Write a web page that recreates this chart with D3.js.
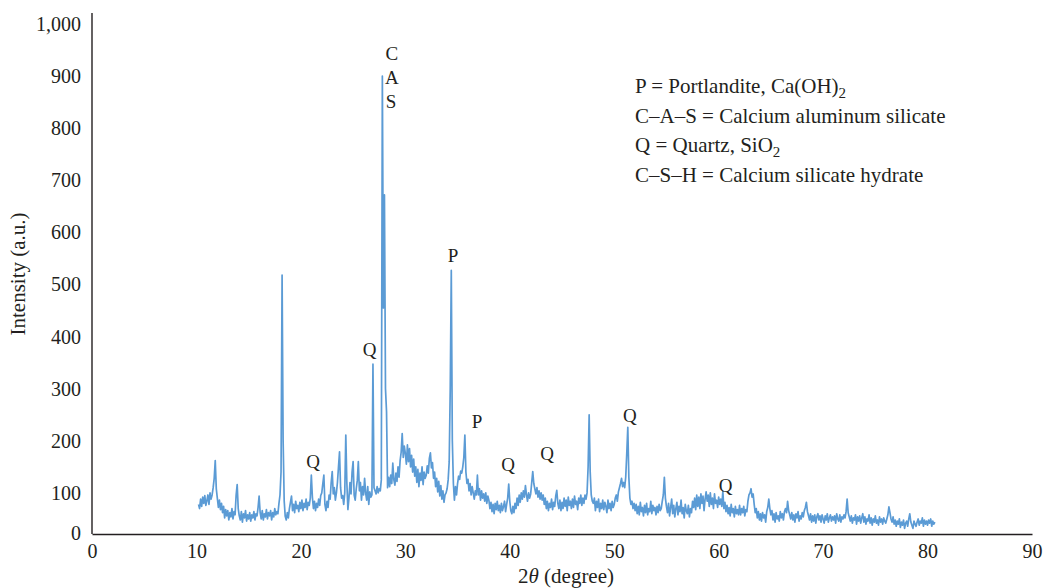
<!DOCTYPE html>
<html><head><meta charset="utf-8">
<script src="https://cdn.jsdelivr.net/npm/d3@7"></script>
<style>
html,body{margin:0;padding:0;background:#fff;}
svg text{font-family:"Liberation Serif","Times New Roman",serif;fill:#231f20;}
</style></head>
<body><svg id="chart" width="1045" height="588"></svg>
<script>
// ---- data: intensity per 0.1 degree step, one row per whole degree (row 10 starts at 10.2) ----
const rowDegrees = d3.range(10, 81);
const rowFirstOffset = [0.2]; // first row begins at 10.2, others at .0
const intensityRows = [
  [78, 70, 88, 74, 92, 80, 95, 76],
  [85, 96, 78, 100, 88, 96, 110, 128, 162, 108],
  [90, 72, 86, 68, 80, 62, 74, 52, 68, 56],
  [66, 48, 62, 54, 70, 50, 64, 58, 96, 116],
  [70, 56, 48, 64, 44, 60, 52, 66, 46, 58],
  [50, 62, 46, 58, 52, 64, 48, 60, 56, 72],
  [94, 62, 50, 66, 48, 60, 54, 68, 50, 62],
  [56, 66, 48, 62, 54, 70, 58, 64, 60, 80],
  [96, 140, 518, 200, 85, 55, 48, 62, 52, 70],
  [82, 94, 66, 78, 62, 84, 70, 76, 64, 82],
  [70, 86, 66, 80, 72, 88, 68, 82, 76, 90],
  [134, 92, 70, 84, 66, 80, 72, 88, 76, 95],
  [100, 118, 134, 78, 66, 84, 72, 96, 88, 120],
  [141, 98, 110, 86, 100, 120, 150, 179, 110, 90],
  [95, 78, 100, 211, 120, 68, 90, 120, 98, 140],
  [160, 96, 86, 108, 124, 160, 104, 120, 86, 112],
  [96, 128, 100, 86, 112, 78, 102, 92, 96, 347],
  [110, 104, 98, 112, 100, 108, 104, 125, 900, 455],
  [672, 300, 256, 110, 130, 112, 134, 118, 157, 125],
  [115, 138, 122, 150, 130, 162, 178, 214, 168, 190],
  [176, 155, 192, 160, 185, 150, 172, 140, 165, 132],
  [150, 120, 145, 112, 138, 124, 150, 116, 140, 128],
  [134, 152, 138, 166, 177, 148, 158, 128, 140, 112],
  [128, 102, 122, 94, 114, 88, 104, 82, 96, 100],
  [108, 125, 160, 300, 527, 200, 118, 86, 112, 96],
  [118, 132, 126, 142, 138, 150, 168, 211, 140, 118],
  [126, 104, 118, 96, 112, 100, 88, 104, 96, 134],
  [96, 108, 86, 104, 90, 98, 84, 100, 80, 94],
  [86, 70, 82, 64, 78, 60, 80, 68, 84, 66],
  [76, 62, 80, 66, 74, 84, 64, 78, 90, 117],
  [84, 66, 60, 74, 62, 80, 70, 90, 76, 96],
  [82, 100, 88, 104, 92, 114, 96, 84, 100, 90],
  [98, 120, 141, 118, 108, 98, 110, 92, 104, 88],
  [100, 86, 96, 78, 90, 70, 84, 66, 80, 72],
  [88, 68, 82, 74, 94, 105, 80, 70, 86, 66],
  [82, 70, 90, 74, 86, 66, 92, 76, 84, 70],
  [88, 72, 94, 78, 84, 68, 90, 80, 96, 76],
  [90, 80, 96, 88, 100, 150, 250, 140, 96, 84],
  [80, 90, 66, 84, 72, 88, 64, 80, 70, 86],
  [68, 82, 74, 62, 86, 70, 80, 66, 84, 72],
  [78, 90, 96, 84, 102, 110, 118, 128, 112, 120],
  [110, 130, 175, 226, 130, 90, 78, 84, 70, 80],
  [66, 78, 60, 74, 58, 82, 64, 72, 56, 76],
  [62, 80, 58, 70, 64, 84, 60, 76, 66, 72],
  [58, 74, 62, 78, 66, 70, 84, 96, 130, 90],
  [74, 62, 80, 56, 72, 88, 60, 76, 54, 70],
  [82, 58, 74, 64, 86, 60, 72, 52, 78, 66],
  [60, 76, 54, 70, 62, 84, 72, 90, 68, 96],
  [74, 92, 70, 98, 80, 94, 66, 88, 102, 84],
  [96, 74, 100, 78, 90, 70, 98, 80, 86, 72],
  [92, 78, 88, 74, 103, 70, 82, 64, 76, 60],
  [72, 56, 78, 62, 70, 54, 74, 60, 68, 58],
  [76, 58, 70, 62, 74, 56, 68, 64, 84, 96],
  [100, 108, 92, 98, 78, 62, 70, 52, 64, 48],
  [60, 46, 62, 52, 58, 44, 64, 72, 88, 70],
  [58, 66, 48, 60, 44, 62, 50, 56, 46, 64],
  [52, 60, 48, 64, 70, 62, 84, 66, 58, 50],
  [62, 48, 58, 44, 60, 52, 64, 46, 56, 50],
  [62, 54, 66, 72, 82, 64, 56, 48, 60, 44],
  [56, 46, 58, 42, 54, 60, 48, 56, 44, 58],
  [50, 42, 56, 48, 60, 44, 52, 58, 46, 54],
  [48, 56, 42, 60, 50, 46, 58, 44, 54, 50],
  [58, 52, 64, 88, 62, 54, 46, 56, 42, 52],
  [48, 58, 40, 54, 46, 56, 42, 52, 60, 44],
  [54, 40, 50, 46, 58, 42, 52, 38, 50, 44],
  [56, 42, 48, 38, 54, 44, 50, 40, 52, 46],
  [42, 50, 58, 73, 62, 50, 44, 54, 40, 48],
  [36, 46, 40, 50, 34, 44, 38, 48, 32, 42],
  [46, 36, 50, 60, 44, 38, 32, 46, 40, 36],
  [44, 50, 38, 46, 42, 52, 36, 48, 40, 46],
  [38, 48, 42, 50, 36, 46, 40, 44]
];

const xTicks = [0, 10, 20, 30, 40, 50, 60, 70, 80, 90];
const yTicks = [0, 100, 200, 300, 400, 500, 600, 700, 800, 900, 1000];

// peak annotations (position in data units: 2theta, intensity at text baseline)
const peakLabelText = ["C", "A", "S", "P", "Q", "Q", "P", "Q", "Q", "Q", "Q"];
const peakLabelTheta = [28.72, 28.72, 28.63, 34.57, 26.57, 21.16, 36.86, 39.83, 43.57, 51.5, 60.66];
const peakLabelIntensity = [930, 884, 838, 543, 363, 148, 224, 142, 163, 236, 102];

const legendMain = ["P = Portlandite, Ca(OH)", "C\u2013A\u2013S = Calcium aluminum silicate", "Q = Quartz, SiO", "C\u2013S\u2013H = Calcium silicate hydrate"];
const legendSub = ["2", "", "2", ""];

// ---- build series ----
const scan = [];
intensityRows.forEach((row, r) => {
  const base = rowDegrees[r] + (r === 0 ? rowFirstOffset[0] : 0);
  row.forEach((v, j) => scan.push({ t: +(base + j * 0.1).toFixed(2), v }));
});

const svg = d3.select("#chart");
const x = d3.scaleLinear().domain([0, 90]).range([92, 1032]);
const y = d3.scaleLinear().domain([0, 1000]).range([545, 24]);
const axisY = 534;
const axisColor = "#231f20";

// line
svg.append("path")
  .datum(scan)
  .attr("fill", "none")
  .attr("stroke", "#5b9bd5")
  .attr("stroke-width", 1.7)
  .attr("stroke-linejoin", "round")
  .attr("d", d3.line().x(d => x(d.t)).y(d => y(d.v)));

// x axis
const gx = svg.append("g").attr("transform", `translate(0,${axisY})`)
  .call(d3.axisBottom(x).tickValues(xTicks).tickSize(0).tickPadding(10).tickFormat(d3.format("d")));
gx.select(".domain").attr("stroke", axisColor).attr("stroke-width", 1.4);
gx.selectAll("text").attr("font-size", 20).attr("font-family", "Liberation Serif").attr("fill", axisColor);

// y axis
const gy = svg.append("g").attr("transform", `translate(${x(0)},0)`)
  .call(d3.axisLeft(y).tickValues(yTicks).tickSize(0).tickPadding(11).tickFormat(d3.format(",")));
gy.select(".domain").remove();
gy.append("line").attr("x1", 0).attr("x2", 0).attr("y1", 13).attr("y2", axisY)
  .attr("stroke", axisColor).attr("stroke-width", 1.4);
gy.selectAll(".tick").filter(d => d === 0).attr("transform", `translate(0,${axisY})`);
gy.selectAll("text").attr("font-size", 20).attr("font-family", "Liberation Serif").attr("fill", axisColor);

// peak labels
svg.append("g").selectAll("text")
  .data(peakLabelText.map((t, i) => ({ t, a: peakLabelTheta[i], b: peakLabelIntensity[i] })))
  .join("text")
  .attr("x", d => x(d.a)).attr("y", d => y(d.b))
  .attr("text-anchor", "middle").attr("font-size", 19)
  .text(d => d.t);

// legend
const lg = svg.append("g");
const legendBaselines = [93, 123, 152, 182];
legendMain.forEach((s, i) => {
  const t = lg.append("text").attr("x", 635).attr("y", legendBaselines[i]).attr("font-size", 21);
  t.append("tspan").text(s);
  if (legendSub[i]) t.append("tspan").attr("font-size", 15).attr("dy", 5).text(legendSub[i]);
});

// axis titles
const xt = svg.append("text").attr("x", 566).attr("y", 583).attr("text-anchor", "middle").attr("font-size", 21);
xt.append("tspan").text("2");
xt.append("tspan").attr("font-style", "italic").text("\u03b8");
xt.append("tspan").text(" (degree)");

svg.append("text").attr("transform", "translate(25,274) rotate(-90)")
  .attr("text-anchor", "middle").attr("font-size", 21).text("Intensity (a.u.)");
</script></body></html>
